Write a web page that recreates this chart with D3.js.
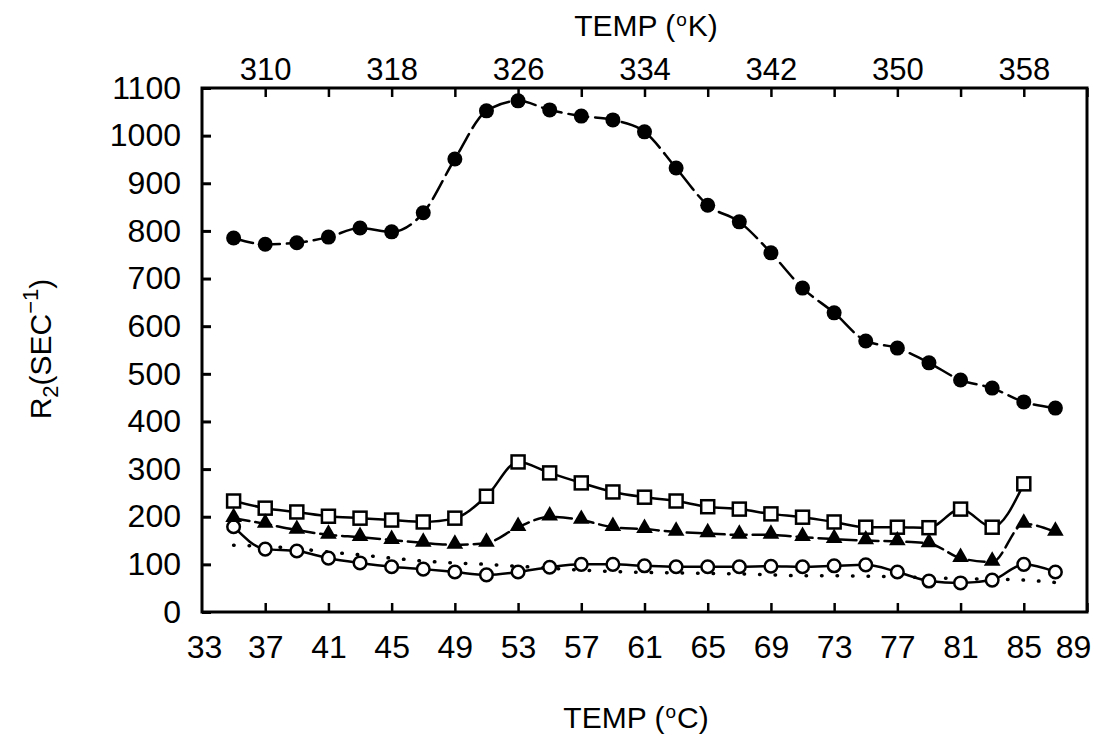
<!DOCTYPE html>
<html><head><meta charset="utf-8">
<script src="https://cdn.jsdelivr.net/npm/d3@7"></script>
<style>body{margin:0;background:#fff}svg{display:block}text{font-family:"Liberation Sans",Arial,sans-serif;fill:#000}</style>
</head><body><svg id="c" width="1094" height="738"></svg>
<script>
const tempC = [35,37,39,41,43,45,47,49,51,53,55,57,59,61,63,65,67,69,71,73,75,77,79,81,83,85,87];
const filledCircles = [785,772,775,787,806,798,838,951,1052,1073,1054,1041,1033,1008,932,854,819,754,680,628,569,554,523,487,470,441,428];
const openSquares = [233,218,210,201,197,193,189,197,243,315,292,271,252,241,233,221,216,206,199,189,178,178,177,216,178,269,null];
const filledTriangles = [197,185,172,162,157,151,145,141,145,178,200,193,178,174,168,165,162,162,157,153,150,148,144,113,105,185,168];
const openCircles = [179,132,128,113,103,95,90,84,78,84,94,100,100,97,95,95,95,96,95,97,99,84,65,61,67,100,84];
const dotted = [140,138,133,126,120,113,107,103,100,96,92,88,85,83,82,81,80,78,76,76,75,74,72,70,69,67,62];
const yTicks = [0,100,200,300,400,500,600,700,800,900,1000,1100];
const xTicksC = [33,37,41,45,49,53,57,61,65,69,73,77,81,85,89];
const xTicksK = [310,314,318,322,326,330,334,338,342,346,350,354,358,362];
const xLabelsK = [310,318,326,334,342,350,358];

const svg = d3.select("#c");
const L=202,R=1087,T=88,B=612;
const x = d3.scaleLinear().domain([33,89]).range([L,R]);
const xk = d3.scaleLinear().domain([306,362]).range([L,R]);
const y = d3.scaleLinear().domain([0,1100]).range([B,T]);

const g = svg.append("g");
g.append("rect").attr("x",L).attr("y",T).attr("width",R-L).attr("height",B-T)
 .attr("fill","none").attr("stroke","#000").attr("stroke-width",3);

const ya = g.append("g").attr("transform",`translate(${L},0)`)
 .call(d3.axisLeft(y).tickValues(yTicks).tickFormat(d3.format("d")).tickSizeInner(-9).tickSizeOuter(0).tickPadding(21));
ya.select(".domain").remove();
ya.selectAll("line").attr("stroke-width",3);
ya.selectAll("text").style("font-size","32px");

const xa = g.append("g").attr("transform",`translate(0,${B})`)
 .call(d3.axisBottom(x).tickValues(xTicksC).tickFormat(d3.format("d")).tickSizeInner(-9).tickSizeOuter(0).tickPadding(23));
xa.select(".domain").remove();
xa.selectAll("line").attr("stroke-width",2.5).filter(d=>d===33).remove();
xa.selectAll("text").style("font-size","32px").filter(d=>d===89).attr("dx",-14);
xa.selectAll("text").filter(d=>d===33).attr("dx",2);

const ta = g.append("g").attr("transform",`translate(0,${T})`)
 .call(d3.axisTop(xk).tickValues(xTicksK).tickSizeInner(-9).tickSizeOuter(0).tickPadding(8)
   .tickFormat(d=>xLabelsK.includes(d)?d:""));
ta.select(".domain").remove();
ta.selectAll("line").attr("stroke-width",2.5);
ta.selectAll("text").style("font-size","31px");

function degTitle(xp,yp,unit){
  const t = svg.append("text").attr("x",xp).attr("y",yp).attr("text-anchor","middle").style("font-size","30px");
  t.append("tspan").text("TEMP (");
  t.append("tspan").text("o").attr("dy",-10).attr("dx",1).style("font-size","19px");
  t.append("tspan").text(unit+")").attr("dy",10).attr("dx",1);
}
degTitle(646,36,"K");
degTitle(636,728,"C");

const t3 = svg.append("text").attr("transform","translate(51,349) rotate(-90)").attr("text-anchor","middle").style("font-size","30px");
t3.append("tspan").text("R");
t3.append("tspan").text("2").attr("dy",7).style("font-size","22px");
t3.append("tspan").text("(SEC").attr("dy",-7);
t3.append("tspan").text("−1").attr("dy",-13).style("font-size","22px");
t3.append("tspan").text(")").attr("dy",13);

const line = d3.line().defined(d=>d[1]!=null).x(d=>x(d[0])).y(d=>y(d[1])).curve(d3.curveMonotoneX);
function pts(arr){return tempC.map((t,i)=>[t,arr[i]]);}
function drawLine(arr,dash,w){
  g.append("path").attr("d",line(pts(arr))).attr("fill","none").attr("stroke","#000")
   .attr("stroke-width",w).attr("stroke-dasharray",dash).attr("stroke-linecap","round");
}
drawLine(dotted,"0.5,15",3.5);
drawLine(openCircles,null,2.5);
drawLine(filledTriangles,"16,6",2.5);
drawLine(openSquares,null,2.5);
drawLine(filledCircles,"20,7",2.5);

g.selectAll(".fc").data(pts(filledCircles)).join("circle").attr("cx",d=>x(d[0])).attr("cy",d=>y(d[1])).attr("r",7.5).attr("fill","#000");
g.selectAll(".oc").data(pts(openCircles)).join("circle").attr("cx",d=>x(d[0])).attr("cy",d=>y(d[1])).attr("r",6.3)
 .attr("fill","#fff").attr("stroke","#000").attr("stroke-width",2.5);
g.selectAll(".sq").data(pts(openSquares).filter(d=>d[1]!=null)).join("rect").attr("x",d=>x(d[0])-6.5).attr("y",d=>y(d[1])-6.5).attr("width",13).attr("height",13)
 .attr("fill","#fff").attr("stroke","#000").attr("stroke-width",2.5);
const tri = d3.symbol().type(d3.symbolTriangle).size(120);
g.selectAll(".tr").data(pts(filledTriangles)).join("path").attr("d",tri).attr("transform",d=>`translate(${x(d[0])},${y(d[1])-1})`).attr("fill","#000");
</script></body></html>
